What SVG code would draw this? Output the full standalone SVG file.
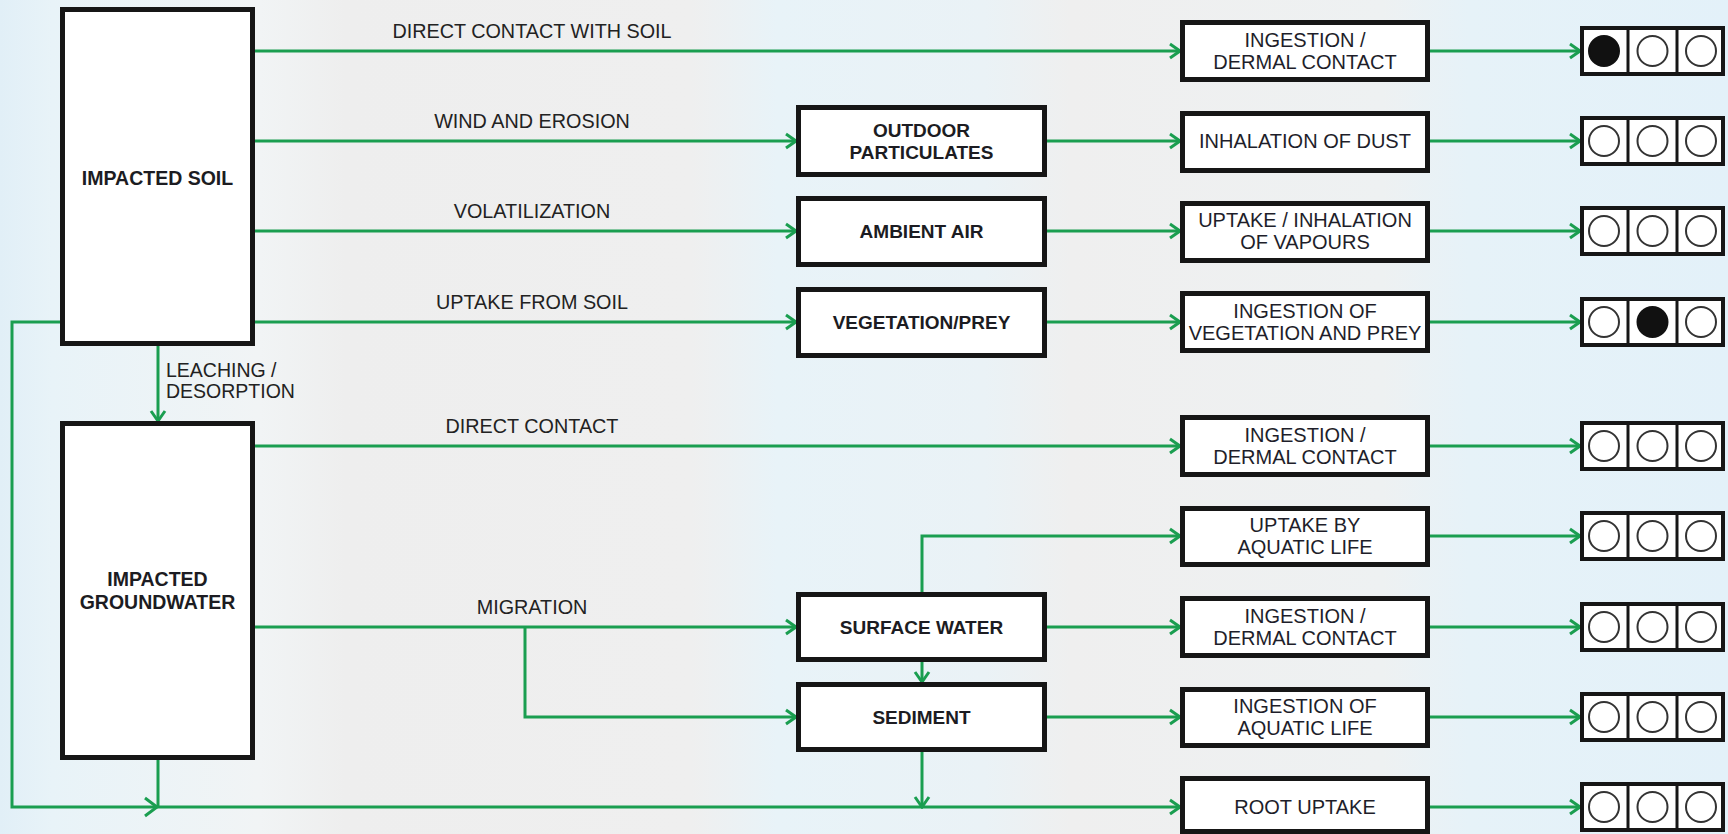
<svg xmlns="http://www.w3.org/2000/svg" width="1728" height="834" viewBox="0 0 1728 834">
<defs>
<linearGradient id="bg" x1="0" y1="0" x2="1" y2="0">
<stop offset="0" stop-color="#e1eff7"/>
<stop offset="0.03" stop-color="#e8f3f8"/>
<stop offset="0.15" stop-color="#f1f4f5"/>
<stop offset="0.2" stop-color="#eeeeee"/>
<stop offset="0.4" stop-color="#efefef"/>
<stop offset="0.45" stop-color="#e8f3f8"/>
<stop offset="0.57" stop-color="#eaf2f6"/>
<stop offset="0.62" stop-color="#efefef"/>
<stop offset="0.8" stop-color="#eef1f2"/>
<stop offset="0.85" stop-color="#e6f2f8"/>
<stop offset="1" stop-color="#e3f1f9"/>
</linearGradient>
<marker id="ah" markerWidth="14" markerHeight="18" refX="12" refY="9" orient="auto" markerUnits="userSpaceOnUse">
<path d="M2,2 L12,9 L2,16" fill="none" stroke="#1a9e50" stroke-width="3"/>
</marker>
</defs>
<style>
.box{fill:#ffffff;stroke:#161616;stroke-width:5}
.ind{fill:#ffffff;stroke:#161616;stroke-width:4}
.div{stroke:#161616;stroke-width:3}
.c{fill:none;stroke:#333333;stroke-width:2}
.cf{fill:#111111;stroke:#111111;stroke-width:2}
.ln{fill:none;stroke:#1a9e50;stroke-width:3}
.arr{marker-end:url(#ah)}
.bt{font-family:"Liberation Sans",Arial,sans-serif;font-weight:bold;font-size:19px;fill:#1c1c22;text-anchor:middle}
.et{font-family:"Liberation Sans",Arial,sans-serif;font-size:20px;fill:#1e1e2a;text-anchor:middle}
.lb{font-family:"Liberation Sans",Arial,sans-serif;font-size:19.8px;fill:#222222;text-anchor:middle}
.ll{font-family:"Liberation Sans",Arial,sans-serif;font-size:19.5px;fill:#222222}
</style>
<rect x="0" y="0" width="1728" height="834" fill="url(#bg)"/>

<g id="connectors">
<path class="ln arr" d="M255,51 H1180"/>
<path class="ln arr" d="M255,141 H796"/>
<path class="ln arr" d="M255,231 H796"/>
<path class="ln arr" d="M255,322 H796"/>
<path class="ln arr" d="M1047,141 H1180"/>
<path class="ln arr" d="M1047,231 H1180"/>
<path class="ln arr" d="M1047,322 H1180"/>
<path class="ln arr" d="M158,346 V421"/>
<path class="ln" d="M60,322 H12 V807 H158"/>
<path class="ln" d="M145,798 L157,807 L145,816"/>
<path class="ln" d="M158,760 V807"/>
<path class="ln arr" d="M158,807 H1180"/>
<path class="ln arr" d="M255,446 H1180"/>
<path class="ln arr" d="M255,627 H796"/>
<path class="ln arr" d="M525,627 V717 H796"/>
<path class="ln arr" d="M922,592 V536 H1180"/>
<path class="ln arr" d="M1047,627 H1180"/>
<path class="ln arr" d="M922,662 V682"/>
<path class="ln arr" d="M1047,717 H1180"/>
<path class="ln arr" d="M922,751 V807"/>
<path class="ln arr" d="M1430,51 H1580"/>
<path class="ln arr" d="M1430,141 H1580"/>
<path class="ln arr" d="M1430,231 H1580"/>
<path class="ln arr" d="M1430,322 H1580"/>
<path class="ln arr" d="M1430,446 H1580"/>
<path class="ln arr" d="M1430,536 H1580"/>
<path class="ln arr" d="M1430,627 H1580"/>
<path class="ln arr" d="M1430,717 H1580"/>
<path class="ln arr" d="M1430,807 H1580"/>
</g>

<g id="labels">
<text class="lb" x="532" y="38">DIRECT CONTACT WITH SOIL</text>
<text class="lb" x="532" y="128">WIND AND EROSION</text>
<text class="lb" x="532" y="218">VOLATILIZATION</text>
<text class="lb" x="532" y="309">UPTAKE FROM SOIL</text>
<text class="lb" x="532" y="433">DIRECT CONTACT</text>
<text class="lb" x="532" y="614">MIGRATION</text>
<text class="ll" x="166" y="377">LEACHING /</text>
<text class="ll" x="166" y="398">DESORPTION</text>
</g>

<g id="impacted-soil">
<rect class="box" x="62.5" y="9.5" width="190" height="334"/>
<text class="bt" x="157.5" y="185" style="font-size:19.5px">IMPACTED SOIL</text>
</g>
<g id="impacted-groundwater">
<rect class="box" x="62.5" y="423.5" width="190" height="334"/>
<text class="bt" x="157.5" y="586" style="font-size:19.5px">IMPACTED</text>
<text class="bt" x="157.5" y="609" style="font-size:19.5px">GROUNDWATER</text>
</g>

<g id="outdoor-particulates">
<rect class="box" x="798.5" y="107.5" width="246" height="67"/>
<text class="bt" x="921.5" y="137">OUTDOOR</text>
<text class="bt" x="921.5" y="159">PARTICULATES</text>
</g>
<g id="ambient-air">
<rect class="box" x="798.5" y="198.5" width="246" height="66"/>
<text class="bt" x="921.5" y="238">AMBIENT AIR</text>
</g>
<g id="vegetation-prey">
<rect class="box" x="798.5" y="289.5" width="246" height="66"/>
<text class="bt" x="921.5" y="329">VEGETATION/PREY</text>
</g>
<g id="surface-water">
<rect class="box" x="798.5" y="594.5" width="246" height="65"/>
<text class="bt" x="921.5" y="634">SURFACE WATER</text>
</g>
<g id="sediment">
<rect class="box" x="798.5" y="684.5" width="246" height="65"/>
<text class="bt" x="921.5" y="724">SEDIMENT</text>
</g>

<g id="exp1">
<rect class="box" x="1182.5" y="22.5" width="245" height="57"/>
<text class="et" x="1305" y="47">INGESTION /</text>
<text class="et" x="1305" y="69">DERMAL CONTACT</text>
</g>
<g id="exp2">
<rect class="box" x="1182.5" y="113.5" width="245" height="57"/>
<text class="et" x="1305" y="148">INHALATION OF DUST</text>
</g>
<g id="exp3">
<rect class="box" x="1182.5" y="203.5" width="245" height="57"/>
<text class="et" x="1305" y="227">UPTAKE / INHALATION</text>
<text class="et" x="1305" y="249">OF VAPOURS</text>
</g>
<g id="exp4">
<rect class="box" x="1182.5" y="293.5" width="245" height="57"/>
<text class="et" x="1305" y="318">INGESTION OF</text>
<text class="et" x="1305" y="340">VEGETATION AND PREY</text>
</g>
<g id="exp5">
<rect class="box" x="1182.5" y="417.5" width="245" height="57"/>
<text class="et" x="1305" y="442">INGESTION /</text>
<text class="et" x="1305" y="464">DERMAL CONTACT</text>
</g>
<g id="exp6">
<rect class="box" x="1182.5" y="508.5" width="245" height="56"/>
<text class="et" x="1305" y="532">UPTAKE BY</text>
<text class="et" x="1305" y="554">AQUATIC LIFE</text>
</g>
<g id="exp7">
<rect class="box" x="1182.5" y="598.5" width="245" height="57"/>
<text class="et" x="1305" y="623">INGESTION /</text>
<text class="et" x="1305" y="645">DERMAL CONTACT</text>
</g>
<g id="exp8">
<rect class="box" x="1182.5" y="689.5" width="245" height="56"/>
<text class="et" x="1305" y="713">INGESTION OF</text>
<text class="et" x="1305" y="735">AQUATIC LIFE</text>
</g>
<g id="exp9">
<rect class="box" x="1182.5" y="778.5" width="245" height="53"/>
<text class="et" x="1305" y="814">ROOT UPTAKE</text>
</g>

<g id="ind1">
<rect class="ind" x="1582" y="28" width="141" height="46"/>
<line class="div" x1="1628" y1="28" x2="1628" y2="74"/><line class="div" x1="1677" y1="28" x2="1677" y2="74"/>
<circle class="cf" cx="1604" cy="51" r="15"/><circle class="c" cx="1652.5" cy="51" r="15"/><circle class="c" cx="1701" cy="51" r="15"/>
</g>
<g id="ind2">
<rect class="ind" x="1582" y="118" width="141" height="46"/>
<line class="div" x1="1628" y1="118" x2="1628" y2="164"/><line class="div" x1="1677" y1="118" x2="1677" y2="164"/>
<circle class="c" cx="1604" cy="141" r="15"/><circle class="c" cx="1652.5" cy="141" r="15"/><circle class="c" cx="1701" cy="141" r="15"/>
</g>
<g id="ind3">
<rect class="ind" x="1582" y="208" width="141" height="46"/>
<line class="div" x1="1628" y1="208" x2="1628" y2="254"/><line class="div" x1="1677" y1="208" x2="1677" y2="254"/>
<circle class="c" cx="1604" cy="231" r="15"/><circle class="c" cx="1652.5" cy="231" r="15"/><circle class="c" cx="1701" cy="231" r="15"/>
</g>
<g id="ind4">
<rect class="ind" x="1582" y="299" width="141" height="46"/>
<line class="div" x1="1628" y1="299" x2="1628" y2="345"/><line class="div" x1="1677" y1="299" x2="1677" y2="345"/>
<circle class="c" cx="1604" cy="322" r="15"/><circle class="cf" cx="1652.5" cy="322" r="15"/><circle class="c" cx="1701" cy="322" r="15"/>
</g>
<g id="ind5">
<rect class="ind" x="1582" y="423" width="141" height="46"/>
<line class="div" x1="1628" y1="423" x2="1628" y2="469"/><line class="div" x1="1677" y1="423" x2="1677" y2="469"/>
<circle class="c" cx="1604" cy="446" r="15"/><circle class="c" cx="1652.5" cy="446" r="15"/><circle class="c" cx="1701" cy="446" r="15"/>
</g>
<g id="ind6">
<rect class="ind" x="1582" y="513" width="141" height="46"/>
<line class="div" x1="1628" y1="513" x2="1628" y2="559"/><line class="div" x1="1677" y1="513" x2="1677" y2="559"/>
<circle class="c" cx="1604" cy="536" r="15"/><circle class="c" cx="1652.5" cy="536" r="15"/><circle class="c" cx="1701" cy="536" r="15"/>
</g>
<g id="ind7">
<rect class="ind" x="1582" y="604" width="141" height="46"/>
<line class="div" x1="1628" y1="604" x2="1628" y2="650"/><line class="div" x1="1677" y1="604" x2="1677" y2="650"/>
<circle class="c" cx="1604" cy="627" r="15"/><circle class="c" cx="1652.5" cy="627" r="15"/><circle class="c" cx="1701" cy="627" r="15"/>
</g>
<g id="ind8">
<rect class="ind" x="1582" y="694" width="141" height="46"/>
<line class="div" x1="1628" y1="694" x2="1628" y2="740"/><line class="div" x1="1677" y1="694" x2="1677" y2="740"/>
<circle class="c" cx="1604" cy="717" r="15"/><circle class="c" cx="1652.5" cy="717" r="15"/><circle class="c" cx="1701" cy="717" r="15"/>
</g>
<g id="ind9">
<rect class="ind" x="1582" y="784" width="141" height="46"/>
<line class="div" x1="1628" y1="784" x2="1628" y2="830"/><line class="div" x1="1677" y1="784" x2="1677" y2="830"/>
<circle class="c" cx="1604" cy="807" r="15"/><circle class="c" cx="1652.5" cy="807" r="15"/><circle class="c" cx="1701" cy="807" r="15"/>
</g>
</svg>
